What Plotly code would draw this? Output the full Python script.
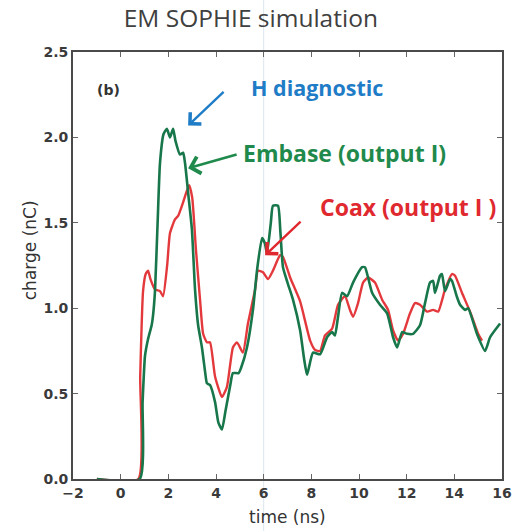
import plotly.graph_objects as go

# Embase (output I) charge trace
embase_t = [-1.0, 0.80, 0.92, 1.02, 1.15, 1.30, 1.36, 1.44, 1.55, 1.65, 1.80, 1.94, 2.07, 2.20,
            2.30, 2.49, 2.62, 2.70, 2.85, 2.99, 3.12, 3.25, 3.41, 3.55, 3.62, 3.75, 3.96, 4.10,
            4.25, 4.40, 4.60, 4.71, 4.95, 5.05, 5.30, 5.55, 5.72, 5.93, 6.05, 6.14, 6.30, 6.39,
            6.60, 6.70, 6.81, 7.00, 7.23, 7.53, 7.70, 7.82, 8.07, 8.37, 8.66, 8.87, 8.99, 9.12,
            9.29, 9.50, 9.75, 10.13, 10.25, 10.38, 10.55, 10.88, 11.18, 11.43, 11.60, 11.81,
            12.02, 12.27, 12.56, 12.77, 12.98, 13.11, 13.19, 13.40, 13.48, 13.61, 13.82, 13.90,
            14.10, 14.24, 14.45, 14.58, 14.95, 15.29, 15.50, 15.92]
embase_q = [0.0, 0.0, 0.45, 0.72, 0.82, 0.90, 0.96, 1.10, 1.50, 1.85, 2.02, 2.05, 2.00, 2.05,
            1.98, 1.90, 1.91, 1.85, 1.65, 1.46, 1.11, 0.90, 0.77, 0.62, 0.56, 0.55, 0.45, 0.33,
            0.29, 0.40, 0.55, 0.62, 0.62, 0.65, 0.77, 0.99, 1.22, 1.41, 1.38, 1.32, 1.50, 1.60,
            1.60, 1.45, 1.24, 1.15, 1.05, 0.87, 0.70, 0.61, 0.74, 0.73, 0.83, 0.86, 0.84, 0.95,
            1.09, 1.07, 1.15, 1.24, 1.24, 1.18, 1.09, 1.02, 0.97, 0.83, 0.77, 0.86,
            0.85, 0.85, 0.90, 1.03, 1.15, 1.16, 1.09, 1.19, 1.20, 1.10, 1.17, 1.16,
            1.07, 1.02, 0.99, 1.00, 0.85, 0.75, 0.83, 0.91]

# Coax (output I) charge trace
coax_t = [-1.0, 0.74, 0.82, 0.94, 1.05, 1.15, 1.25, 1.44, 1.65, 1.78, 1.95, 2.07, 2.28, 2.41,
          2.62, 2.87, 3.00, 3.16, 3.33, 3.46, 3.62, 3.75, 3.96, 4.25, 4.46, 4.71, 4.88, 5.13,
          5.34, 5.64, 5.76, 5.97, 6.18, 6.39, 6.69, 6.81, 7.11, 7.53, 7.95, 8.16, 8.37, 8.57,
          8.87, 9.12, 9.41, 9.62, 9.75, 9.96, 10.17, 10.38, 10.67, 10.97, 11.22, 11.43, 11.64,
          11.85, 12.14, 12.35, 12.56, 12.86, 13.11, 13.32, 13.61, 13.90, 14.03, 14.32, 14.66,
          15.00, 15.16]
coax_q = [0.0, 0.0, 0.60, 1.10, 1.20, 1.22, 1.17, 1.11, 1.10, 1.07, 1.25, 1.44, 1.52, 1.54,
          1.62, 1.72, 1.65, 1.34, 1.05, 0.85, 0.80, 0.80, 0.60, 0.48, 0.54, 0.77, 0.80, 0.74,
          0.91, 1.11, 1.22, 1.21, 1.17, 1.22, 1.31, 1.30, 1.18, 1.04, 0.81, 0.755, 0.75, 0.84,
          0.88, 1.02, 1.07, 0.99, 0.95, 1.03, 1.15, 1.18, 1.15, 1.05, 0.99, 0.87, 0.81,
          0.85, 0.97, 1.03, 1.02, 0.98, 0.99, 0.98, 1.11, 1.20, 1.19, 1.09, 0.98,
          0.85, 0.81]

x_ticks = [-2, 0, 2, 4, 6, 8, 10, 12, 14, 16]
y_ticks = [0.0, 0.5, 1.0, 1.5, 2.0, 2.5]

GREEN_LINE = "#17764a"
RED_LINE = "#e3393c"
BLUE_TXT = "#1f7cc6"
GREEN_TXT = "#1f8a4c"
RED_TXT = "#e0282f"

fig = go.Figure()
fig.add_trace(go.Scatter(x=coax_t, y=coax_q, mode="lines",
                         line=dict(color=RED_LINE, width=2.4, shape="spline", smoothing=0.5),
                         name="Coax"))
fig.add_trace(go.Scatter(x=embase_t, y=embase_q, mode="lines",
                         line=dict(color=GREEN_LINE, width=2.6, shape="spline", smoothing=0.5),
                         name="Embase"))

tick_font = dict(family="DejaVu Sans", size=14, color="#3a3a3a", weight="bold")
axis_common = dict(showline=True, linecolor="#4a4a4a", linewidth=1.8, mirror="ticks",
                   ticks="inside", ticklen=5, tickwidth=1, tickcolor="#666666",
                   showgrid=False, zeroline=False, tickfont=tick_font, automargin=False)

fig.update_xaxes(range=[-2, 16], tickvals=x_ticks,
                 ticktext=["\u22122"] + [str(v) for v in x_ticks[1:]], **axis_common)
fig.update_yaxes(range=[0, 2.5], tickvals=y_ticks,
                 ticktext=[f"{v:.1f}" for v in y_ticks], **axis_common)


def label(text, x, y, font, **kw):
    return dict(text=text, x=x, y=y, xref="paper", yref="paper", showarrow=False,
                xanchor="center", yanchor="middle", font=font, **kw)


annotations = [
    # axis titles
    label("time (ns)", 0.5, -0.089, dict(family="DejaVu Sans", size=17, color="#333333")),
    label("charge (nC)", -0.100, 0.536, dict(family="DejaVu Sans", size=17, color="#333333"),
          textangle=-90),
    # panel label
    label("(b)", 0.082, 0.911, dict(family="DejaVu Sans", size=14, color="#333333", weight="bold")),
    # callout labels
    label("H diagnostic", 0.569, 0.916, dict(family="Open Sans", size=21.5, color=BLUE_TXT, weight="bold")),
    label("Embase (output I)", 0.634, 0.763, dict(family="Open Sans", size=23, color=GREEN_TXT, weight="bold")),
    label("Coax (output I )", 0.781, 0.637, dict(family="Open Sans", size=23, color=RED_TXT, weight="bold")),
    # callout arrows
    dict(x=2.83, y=2.07, xref="x", yref="y", ax=37, ay=-35, text="", showarrow=True,
         arrowhead=4, arrowsize=1.3, arrowwidth=2.4, arrowcolor=BLUE_TXT),
    dict(x=2.83, y=1.82, xref="x", yref="y", ax=50, ay=-14, text="", showarrow=True,
         arrowhead=4, arrowsize=1.3, arrowwidth=2.6, arrowcolor=GREEN_TXT),
    dict(x=6.06, y=1.31, xref="x", yref="y", ax=37, ay=-35, text="", showarrow=True,
         arrowhead=4, arrowsize=1.3, arrowwidth=2.4, arrowcolor=RED_TXT),
]

fig.update_layout(
    width=514, height=531, autosize=False,
    margin=dict(l=73, r=12, t=52, b=52, pad=0, autoexpand=False),
    paper_bgcolor="white", plot_bgcolor="white",
    showlegend=False,
    title=dict(text="EM SOPHIE simulation", x=0.488, xanchor="center", y=0.966,
               yanchor="middle", font=dict(family="Open Sans", size=24.5, color="#404040")),
    annotations=annotations,
    shapes=[dict(type="line", xref="x", yref="paper", x0=6.0, x1=6.0, y0=-0.13, y1=1.13,
                 line=dict(color="#dbe7ee", width=1), layer="below")],
)

fig.write_html("out.html", config={"responsive": False})
